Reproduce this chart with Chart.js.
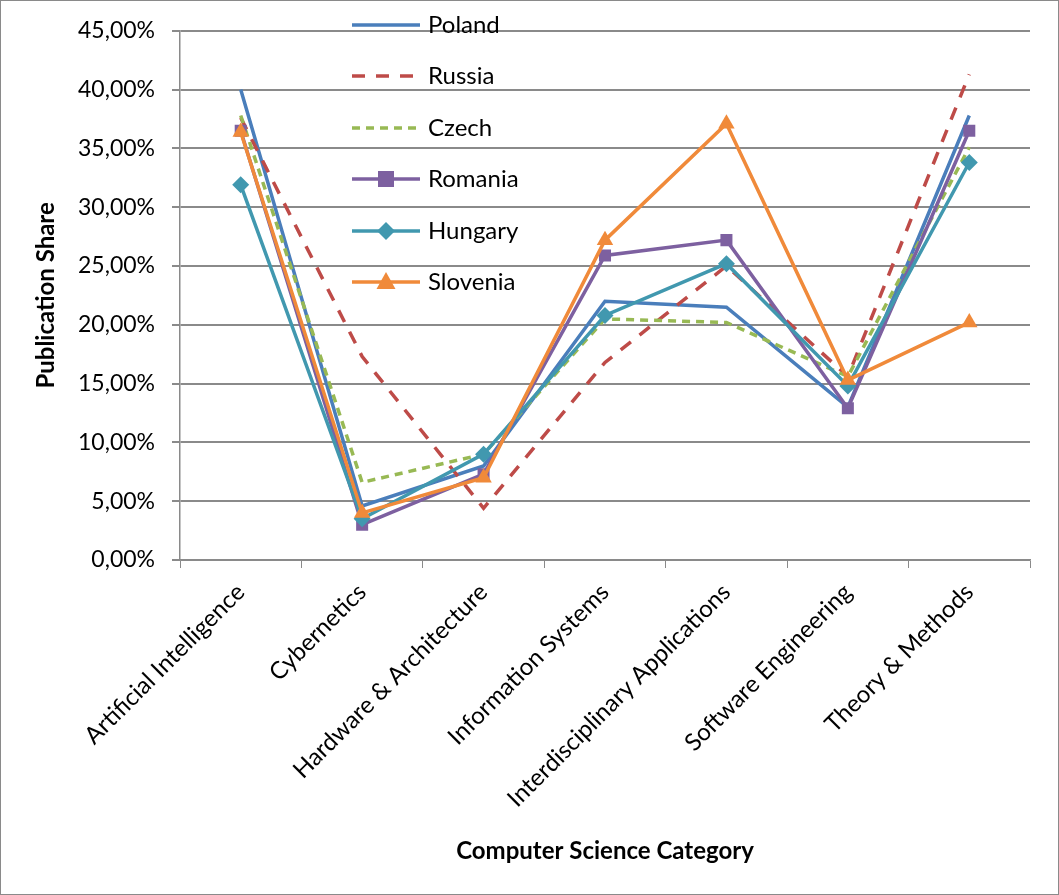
<!DOCTYPE html>
<html><head><meta charset="utf-8">
<script src="https://cdn.jsdelivr.net/npm/chart.js@4"></script>
<style>html,body{margin:0;padding:0;background:#fff}canvas{display:block}</style>
</head><body>
<canvas id="c" width="1059" height="895"></canvas>
<script>
const categories = ["Artificial Intelligence","Cybernetics","Hardware & Architecture","Information Systems","Interdisciplinary Applications","Software Engineering","Theory & Methods"];
const poland   = [40.0, 4.6, 8.0, 22.0, 21.5, 13.0, 37.8];
const russia   = [37.6, 17.3, 4.4, 16.8, 25.0, 15.6, 41.3];
const czech    = [37.8, 6.6, 9.0, 20.5, 20.2, 15.6, 35.1];
const romania  = [36.5, 3.0, 7.3, 25.9, 27.2, 12.9, 36.5];
const hungary  = [31.9, 3.5, 9.0, 20.8, 25.2, 14.8, 33.8];
const slovenia = [36.4, 4.0, 7.0, 27.2, 37.1, 15.3, 20.2];
const yTicks = [0,5,10,15,20,25,30,35,40,45];

const FONT = "Lato, 'Open Sans', sans-serif";
const series = [
  {label:"Poland", data:poland, color:"#4A7EBB", dash:[], pt:false},
  {label:"Russia", data:russia, color:"#BE4B48", dash:[13,11], pt:false},
  {label:"Czech", data:czech, color:"#98B954", dash:[8,6], pt:false},
  {label:"Romania", data:romania, color:"#7D60A0", dash:[], pt:'rect', r:8.5},
  {label:"Hungary", data:hungary, color:"#4198AF", dash:[], pt:'rectRot', r:8.5},
  {label:"Slovenia", data:slovenia, color:"#F08A3A", dash:[], pt:'triangle', r:9.5}
];

const legendPlugin = {
  id:'customLegend',
  afterDraw(chart){
    const ctx = chart.ctx;
    ctx.save();
    const ys = [25,76,128,179,231,282];
    series.forEach((s,i)=>{
      const y = ys[i];
      ctx.strokeStyle = s.color; ctx.lineWidth = 3.5; ctx.setLineDash(s.dash);
      ctx.beginPath(); ctx.moveTo(352,y); ctx.lineTo(420,y); ctx.stroke();
      ctx.setLineDash([]);
      if (s.pt){
        ctx.fillStyle = s.color;
        const cx = 386;
        ctx.beginPath();
        if (s.pt==='rect'){ ctx.rect(cx-8,y-8,16,16); }
        else if (s.pt==='rectRot'){ ctx.moveTo(cx,y-9); ctx.lineTo(cx+9,y); ctx.lineTo(cx,y+9); ctx.lineTo(cx-9,y); ctx.closePath(); }
        else { ctx.moveTo(cx,y-10); ctx.lineTo(cx+9.5,y+7); ctx.lineTo(cx-9.5,y+7); ctx.closePath(); }
        ctx.fill();
      }
      ctx.fillStyle = '#000'; ctx.font = "24px "+FONT; ctx.textBaseline='middle'; ctx.textAlign='left';
      ctx.fillText(s.label, 428, y);
    });
    ctx.strokeStyle = '#8a8a8a'; ctx.lineWidth = 1;
    ctx.strokeRect(0.5,0.5,1058,894);
    ctx.restore();
  }
};

new Chart(document.getElementById('c'), {
  type:'line',
  data:{
    labels:categories,
    datasets: series.map((s,i)=>({
      label:s.label, data:s.data, borderColor:s.color, backgroundColor:s.color,
      borderWidth:3.5, borderDash:s.dash, fill:false, tension:0, order: series.length - i,
      pointStyle: s.pt || 'circle', pointRadius: s.pt ? s.r : 0,
      pointHoverRadius: 0, pointBorderWidth:0
    }))
  },
  options:{
    responsive:false, animation:false,
    layout:{padding:{left:30, right:29, top:30, bottom:25}},
    plugins:{legend:{display:false}, tooltip:{enabled:false}},
    scales:{
      x:{
        offset:true,
        grid:{display:true, drawOnChartArea:false, drawTicks:true, tickLength:8, color:'#8a8a8a', lineWidth:1, offset:true},
        border:{display:true, color:'#8a8a8a', width:1.5},
        ticks:{color:'#000', font:{family:FONT, size:24}, maxRotation:45, minRotation:45, padding:10, autoSkip:false},
        title:{display:true, text:'Computer Science Category', color:'#000', font:{family:FONT, size:24, weight:'bold'}, padding:{top:0, bottom:4}},
        afterFit(s){ s.height = 895-560-25; }
      },
      y:{
        min:0, max:45,
        afterBuildTicks(s){ s.ticks = yTicks.map(v=>({value:v})); },
        grid:{color:'#8a8a8a', lineWidth:2, tickLength:8, drawTicks:true},
        border:{display:true, color:'#8a8a8a', width:1.5},
        ticks:{color:'#000', font:{family:FONT, size:23}, padding:17,
          callback:(v)=> v.toFixed(2).replace('.',',')+'%'},
        title:{display:true, text:'Publication Share', color:'#000', font:{family:FONT, size:24, weight:'bold'}, padding:{top:2, bottom:0}},
        afterFit(s){ s.width = 180-30; }
      }
    }
  },
  plugins:[legendPlugin]
});
</script>
</body></html>
